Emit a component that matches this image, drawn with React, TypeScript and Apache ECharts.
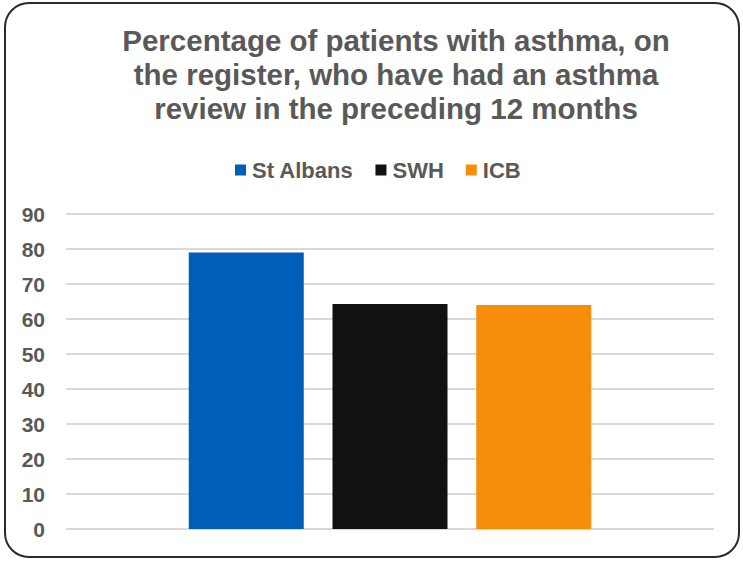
import React, { useEffect, useRef } from "react";
import * as echarts from "echarts";

const titleLines = [
  "Percentage of patients with asthma, on",
  "the register, who have had an asthma",
  "review in the preceding 12 months",
];
const categories = [""];
const seriesNames = ["St Albans", "SWH", "ICB"];
const stAlbans = [79.0];
const swh = [64.3];
const icb = [64.0];
const seriesColors = ["#005EB8", "#111111", "#F68E0B"];
const yMin = 0;
const yMax = 90;
const yInterval = 10;

export default function App() {
  const ref = useRef<HTMLDivElement>(null);
  useEffect(() => {
    document.body.style.margin = "0";
    if (!ref.current) return;
    const chart = echarts.init(ref.current, undefined, { renderer: "svg" });
    const values = [stAlbans, swh, icb];
    chart.setOption({
      animation: false,
      backgroundColor: "#ffffff",
      textStyle: { fontFamily: "Liberation Sans, Arial, sans-serif" },
      graphic: [
        {
          type: "rect",
          shape: { x: 5, y: 3, width: 734, height: 554, r: 24 },
          style: { fill: "none", stroke: "#2b2b2b", lineWidth: 2 },
          silent: true,
        },
        {
          type: "text",
          x: 396,
          y: 23,
          style: {
            text: titleLines.join("\n"),
            fill: "#595959",
            font: "bold 29.5px 'Liberation Sans', Arial, sans-serif",
            lineHeight: 34,
            align: "center",
            verticalAlign: "top",
          },
        },
      ],
      legend: {
        data: seriesNames,
        left: 230,
        top: 154,
        icon: "rect",
        itemWidth: 11,
        itemHeight: 11,
        itemGap: 22,
        textStyle: {
          color: "#595959",
          fontSize: 22,
          fontWeight: "bold",
          fontFamily: "Liberation Sans, Arial, sans-serif",
          padding: [0, 0, 0, 1],
        },
      },
      grid: {
        left: 66,
        right: 29,
        top: 214,
        bottom: 34,
        containLabel: false,
        outerBoundsMode: "none",
      },
      xAxis: {
        type: "category",
        data: categories,
        axisLine: { show: false },
        axisTick: { show: false },
        axisLabel: { show: false },
      },
      yAxis: {
        type: "value",
        min: yMin,
        max: yMax,
        interval: yInterval,
        axisLine: { show: false },
        axisTick: { show: false },
        axisLabel: {
          color: "#595959",
          fontSize: 21,
          fontWeight: "bold",
          margin: 21,
          fontFamily: "Liberation Sans, Arial, sans-serif",
        },
        splitLine: { lineStyle: { color: "#d9d9d9", width: 2 } },
      },
      series: seriesNames.map((name, i) => ({
        name,
        type: "bar",
        data: values[i],
        barWidth: 115,
        barGap: "25%",
        itemStyle: { color: seriesColors[i] },
      })),
    });
    return () => chart.dispose();
  }, []);
  return <div ref={ref} style={{ width: 743, height: 563 }} />;
}
